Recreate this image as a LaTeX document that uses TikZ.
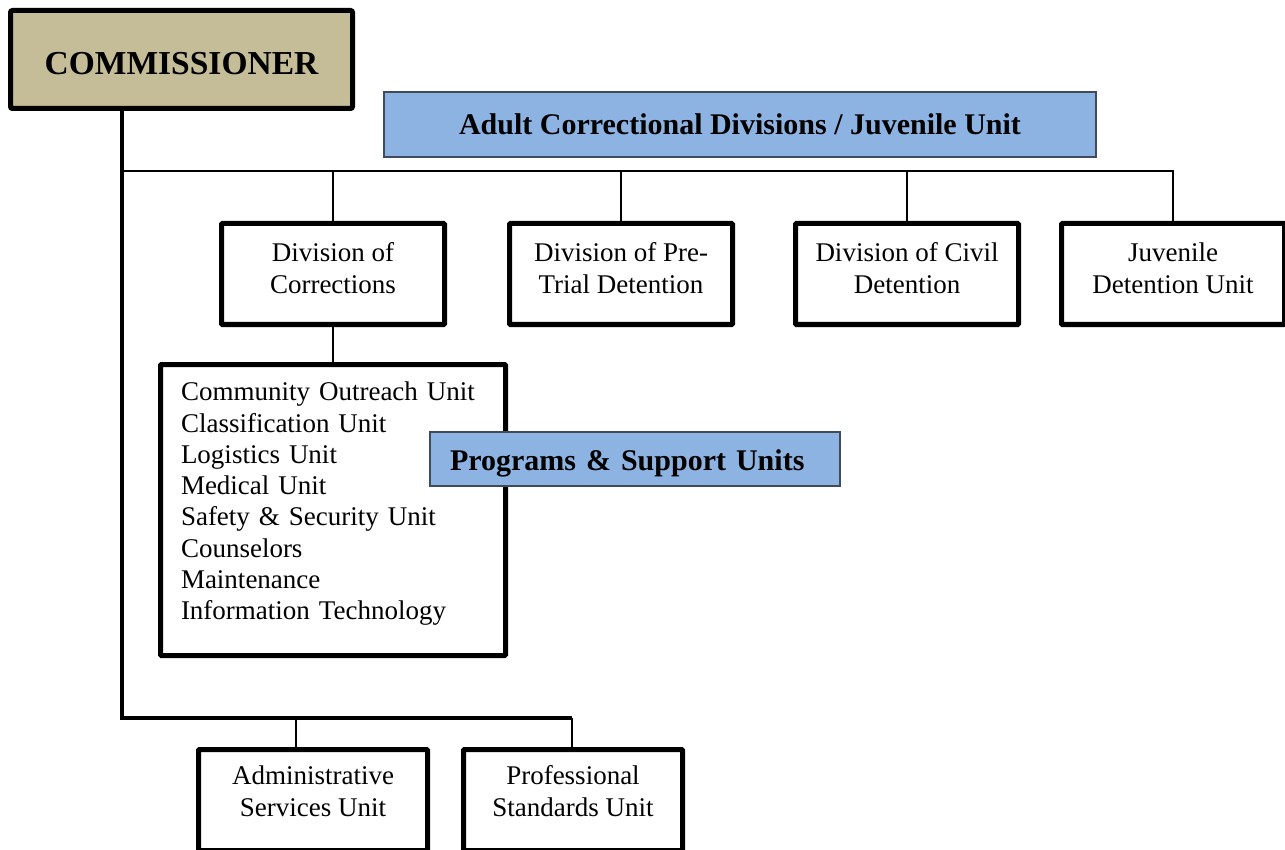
\documentclass[tikz,border=0pt]{standalone}
\usepackage{fontspec}
\setmainfont{Liberation Serif}
\usepackage{tikz}
\usetikzlibrary{positioning,calc}
\definecolor{commtan}{HTML}{C4BD97}
\definecolor{headblue}{HTML}{8DB3E2}
\definecolor{headline}{HTML}{3F4B5B}
\newcommand{\boxtext}[3][c]{\raisebox{#2}[\height][\depth]{\begin{tabular}{@{}#1@{}}#3\end{tabular}}}
\tikzstyle{link} = [line width=2pt]
\tikzstyle{trunk} = [line width=4pt]
\tikzset{
commbox/.style={draw,line width=5pt,fill=commtan,rounded corners=2pt,minimum width=342pt,minimum height=98pt,font=\fontsize{33.5}{38}\selectfont\bfseries},
headbox/.style={draw=headline,line width=1.5pt,fill=headblue,font=\fontsize{30}{36}\selectfont\bfseries},
unitbox/.style={draw,line width=5pt,rounded corners=1pt,minimum height=101pt,font=\fontsize{27}{32}\selectfont}
}

\begin{document}
\begin{tikzpicture}[x=1pt,y=-1pt]
\path[use as bounding box] (0,0) rectangle (1285,850);
%----------------------------------------------------------------------------
% Placement of chart nodes
\node (comm) [commbox] at (181.5,59.5) {\raisebox{-4pt}[\height][\depth]{COMMISSIONER}};
\node (adult) [headbox,minimum width=712pt,minimum height=65pt] at (740,124.5) {Adult Correctional Divisions / Juvenile Unit};

\node (divcor) [unitbox,minimum width=223pt] at (333,274) {\boxtext{3pt}{Division of\\Corrections}};
\node (divpre) [unitbox,minimum width=223pt,right=60pt of divcor] {\boxtext{3pt}{Division of Pre-\\Trial Detention}};
\node (divciv) [unitbox,minimum width=223pt,right=58pt of divpre] {\boxtext{3pt}{Division of Civil\\Detention}};
\node (divjuv) [unitbox,minimum width=223pt,right=38pt of divciv] {\boxtext{3pt}{Juvenile\\Detention Unit}};

\node (units) [unitbox,align=left,inner xsep=20.5pt,text width=304pt,minimum height=291pt,below=35pt of divcor,font=\fontsize{27}{31.3}\selectfont] {\boxtext[l]{6pt}{Community Outreach Unit\\Classification Unit\\Logistics Unit\\Medical Unit\\Safety \& Security Unit\\Counselors\\Maintenance\\Information Technology}};
\node (progs) [headbox,align=left,inner xsep=20pt,text width=370pt,minimum height=54pt] at (635,459) {\raisebox{-4pt}[\height][\depth]{Programs \& Support Units}};

\node (admin) [unitbox,minimum width=229pt] at (313,800) {\boxtext{6pt}{Administrative\\Services Unit}};
\node (prof) [unitbox,minimum width=219pt,right=31pt of admin] {\boxtext{6pt}{Professional\\Standards Unit}};

%----------------------------------------------------------------------------
% Lines
\coordinate (busL) at (122,171);
\coordinate (trunkEnd) at (122,718);
\coordinate (dropA) at (296,718);
\coordinate (dropB) at (572,718);

\draw[trunk] (comm.south -| busL) -- (trunkEnd) -- (dropB);
\draw[link] (busL) -| (divjuv.north);
\draw[link] (divcor.north) -- (divcor.north |- busL);
\draw[link] (divpre.north) -- (divpre.north |- busL);
\draw[link] (divciv.north) -- (divciv.north |- busL);
\draw[link] (divcor.south) -- (units.north);
\draw[link] (dropA) -- (dropA |- admin.north);
\draw[link] (dropB) -- (dropB |- prof.north);

\end{tikzpicture}
\end{document}
